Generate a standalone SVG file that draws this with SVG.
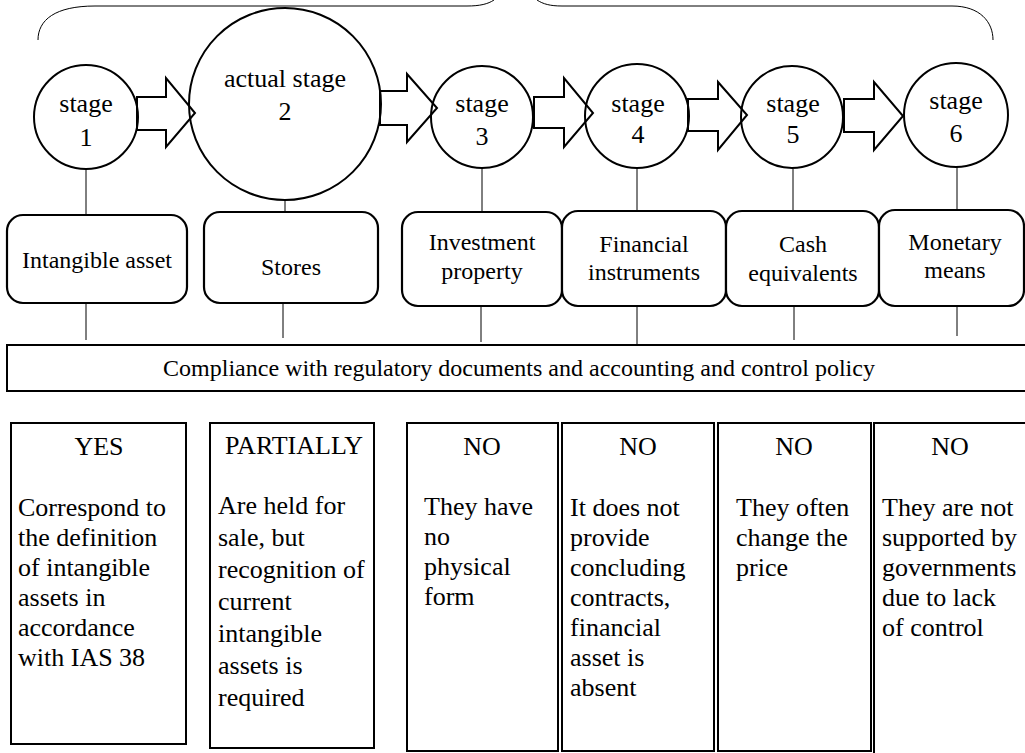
<svg xmlns="http://www.w3.org/2000/svg" width="1025" height="753" viewBox="0 0 1025 753">
<style>
  text { font-family: "Liberation Serif", "Times New Roman", serif; fill: #000; }
  .st { font-size: 26px; text-anchor: middle; }
  .bx { font-size: 24px; text-anchor: middle; }
  .cp { font-size: 24px; text-anchor: middle; }
  .hd { font-size: 26px; text-anchor: middle; }
  .bd { font-size: 26px; }
  .circ { fill: none; stroke: #000; stroke-width: 2; }
  .rbox { fill: #fff; stroke: #000; stroke-width: 2.2; }
  .box { fill: #fff; stroke: #000; stroke-width: 2; }
  .ln { stroke: #000; stroke-width: 1; fill: none; }
  .arr { fill: #fff; stroke: #000; stroke-width: 2; stroke-linejoin: miter; }
</style>
<rect width="1025" height="753" fill="#fff"/>

<g id="brace">
  <path class="ln" d="M38,40 C38,20 55,6 95,6 L467,6 C480,6 488,4 494,0"/>
  <path class="ln" d="M537,0 C543,4 550,6 562,6 L952,6 C980,6 993,22 993,40"/>
</g>

<g id="connectors">
  <path class="arr" d="M137,97 L166,97 L166,78 L195,113 L166,147 L166,130 L137,130 Z"/>
  <path class="arr" d="M380,91 L407,91 L407,74 L437,108 L407,142 L407,125 L380,125 Z"/>
  <path class="arr" d="M534,97 L564,97 L564,78 L593,113 L564,147 L564,128 L534,128 Z"/>
  <path class="arr" d="M688,99 L718,99 L718,82 L747,115 L718,150 L718,131 L688,131 Z"/>
  <path class="arr" d="M844,99 L874,99 L874,82 L903,116 L874,150 L874,132 L844,132 Z"/>
  <line class="ln" x1="86" y1="169" x2="86" y2="215"/>
  <line class="ln" x1="285" y1="200" x2="285" y2="212"/>
  <line class="ln" x1="482" y1="169" x2="482" y2="212"/>
  <line class="ln" x1="637" y1="168" x2="637" y2="211"/>
  <line class="ln" x1="793" y1="169" x2="793" y2="211"/>
  <line class="ln" x1="957" y1="167" x2="957" y2="210"/>
  <line class="ln" x1="86" y1="303" x2="86" y2="340"/>
  <line class="ln" x1="283" y1="303" x2="283" y2="338"/>
  <line class="ln" x1="481" y1="306" x2="481" y2="342"/>
  <line class="ln" x1="637" y1="306" x2="637" y2="345"/>
  <line class="ln" x1="794" y1="306" x2="794" y2="340"/>
  <line class="ln" x1="957" y1="306" x2="957" y2="336"/>
</g>

<g id="stage1">
  <circle class="circ" cx="86" cy="117" r="52"/>
  <text class="st" x="86" y="112">stage</text>
  <text class="st" x="86" y="146">1</text>
</g>
<g id="stage2">
  <circle class="circ" cx="285" cy="104" r="96"/>
  <text class="st" x="285" y="87">actual stage</text>
  <text class="st" x="285" y="120">2</text>
</g>
<g id="stage3">
  <circle class="circ" cx="482" cy="117" r="51"/>
  <text class="st" x="482" y="112">stage</text>
  <text class="st" x="482" y="145">3</text>
</g>
<g id="stage4">
  <circle class="circ" cx="637" cy="116" r="52"/>
  <text class="st" x="638" y="112">stage</text>
  <text class="st" x="638" y="143">4</text>
</g>
<g id="stage5">
  <circle class="circ" cx="792" cy="117" r="51"/>
  <text class="st" x="793" y="112">stage</text>
  <text class="st" x="793" y="143">5</text>
</g>
<g id="stage6">
  <circle class="circ" cx="956" cy="115" r="52"/>
  <text class="st" x="956" y="109">stage</text>
  <text class="st" x="956" y="142">6</text>
</g>

<g id="cat-intangible">
  <rect class="rbox" x="7" y="215" width="180" height="88" rx="16"/>
  <text class="bx" x="97" y="268">Intangible asset</text>
</g>
<g id="cat-stores">
  <rect class="rbox" x="204" y="212" width="174" height="91" rx="16"/>
  <text class="bx" x="291" y="275">Stores</text>
</g>
<g id="cat-investment">
  <rect class="rbox" x="402" y="212" width="160" height="94" rx="16"/>
  <text class="bx" x="482" y="250">Investment</text>
  <text class="bx" x="482" y="279">property</text>
</g>
<g id="cat-financial">
  <rect class="rbox" x="562" y="211" width="164" height="95" rx="16"/>
  <text class="bx" x="644" y="252">Financial</text>
  <text class="bx" x="644" y="280">instruments</text>
</g>
<g id="cat-cash">
  <rect class="rbox" x="726" y="211" width="153" height="95" rx="16"/>
  <text class="bx" x="803" y="252">Cash</text>
  <text class="bx" x="803" y="281">equivalents</text>
</g>
<g id="cat-monetary">
  <rect class="rbox" x="879" y="210" width="145" height="96" rx="16"/>
  <text class="bx" x="955" y="250">Monetary</text>
  <text class="bx" x="955" y="278">means</text>
</g>

<g id="compliance">
  <rect class="box" x="7" y="345" width="1020" height="46" stroke-width="1.5"/>
  <text class="cp" x="519" y="376">Compliance with regulatory documents and accounting and control policy</text>
</g>

<g id="res-yes">
  <rect class="box" x="11" y="423" width="175" height="321"/>
  <text class="hd" x="99" y="455">YES</text>
  <text class="bd" x="18" y="516">Correspond to</text>
  <text class="bd" x="18" y="546">the definition</text>
  <text class="bd" x="18" y="576">of intangible</text>
  <text class="bd" x="18" y="606">assets in</text>
  <text class="bd" x="18" y="636">accordance</text>
  <text class="bd" x="18" y="666">with IAS 38</text>
</g>
<g id="res-partially">
  <rect class="box" x="210" y="423" width="164" height="325"/>
  <text class="hd" x="294" y="454">PARTIALLY</text>
  <text class="bd" x="218" y="514">Are held for</text>
  <text class="bd" x="218" y="546">sale, but</text>
  <text class="bd" x="218" y="578">recognition of</text>
  <text class="bd" x="218" y="610">current</text>
  <text class="bd" x="218" y="642">intangible</text>
  <text class="bd" x="218" y="674">assets is</text>
  <text class="bd" x="218" y="706">required</text>
</g>
<g id="res-no-investment">
  <rect class="box" x="407" y="423" width="151" height="328"/>
  <text class="hd" x="482" y="455">NO</text>
  <text class="bd" x="424" y="515">They have</text>
  <text class="bd" x="424" y="545">no</text>
  <text class="bd" x="424" y="575">physical</text>
  <text class="bd" x="424" y="605">form</text>
</g>
<g id="res-no-financial">
  <rect class="box" x="562" y="423" width="152" height="328"/>
  <text class="hd" x="638" y="455">NO</text>
  <text class="bd" x="570" y="516">It does not</text>
  <text class="bd" x="570" y="546">provide</text>
  <text class="bd" x="570" y="576">concluding</text>
  <text class="bd" x="570" y="606">contracts,</text>
  <text class="bd" x="570" y="636">financial</text>
  <text class="bd" x="570" y="666">asset is</text>
  <text class="bd" x="570" y="696">absent</text>
</g>
<g id="res-no-cash">
  <rect class="box" x="718" y="423" width="153" height="328"/>
  <text class="hd" x="794" y="455">NO</text>
  <text class="bd" x="736" y="516">They often</text>
  <text class="bd" x="736" y="546">change the</text>
  <text class="bd" x="736" y="576">price</text>
</g>
<g id="res-no-monetary">
  <rect class="box" x="874" y="423" width="152" height="340"/>
  <text class="hd" x="950" y="455">NO</text>
  <text class="bd" x="882" y="516">They are not</text>
  <text class="bd" x="882" y="546">supported by</text>
  <text class="bd" x="882" y="576">governments</text>
  <text class="bd" x="882" y="606">due to lack</text>
  <text class="bd" x="882" y="636">of control</text>
</g>
</svg>
